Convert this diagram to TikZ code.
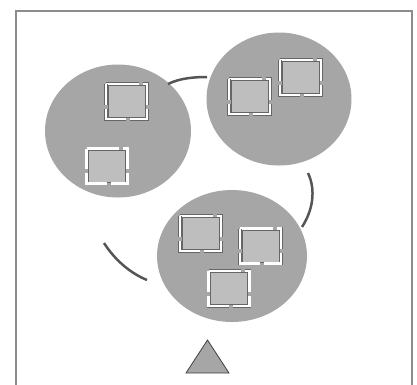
\documentclass[tikz,border=0pt]{standalone}
\usetikzlibrary{shapes.geometric}
\definecolor{blobfill}{HTML}{A6A6A6}
\definecolor{sqfill}{HTML}{BEBEBE}
\definecolor{arcgray}{HTML}{555555}
\definecolor{framegray}{HTML}{8C8C8C}
\definecolor{edgegray}{HTML}{666666}
\tikzset{
  blob/.style={ellipse, fill=blobfill, inner sep=0pt},
  sqnode/.style={rectangle, fill=sqfill, draw=edgegray, line width=0.4pt, minimum width=37pt, minimum height=32pt, inner sep=0pt},
  strip/.style={draw=edgegray, line width=0.6pt, double=white, double distance=2.4pt},
  linkarc/.style={draw=arcgray, line width=2.5pt},
  outerframe/.style={draw=framegray, line width=1.2pt},
  tri/.style={fill=blobfill, draw=black!75, line width=0.8pt, line join=miter}
}
\newcommand{\sqbox}[3]{%
  \begin{scope}[shift={(#2,#3)}]
    \node[sqnode] (#1) at (0,0) {};
    \draw[strip] (-20.5,-17.5) -- (12,-17.5);
    \draw[strip] (16,-17.5) -- (20.5,-17.5) -- (20.5,3);
    \draw[strip] (20.5,7) -- (20.5,17.5) -- (3.5,17.5);
    \draw[strip] (-0.5,17.5) -- (-20.5,17.5) -- (-20.5,7);
    \draw[strip] (-20.5,3) -- (-20.5,-17.5);
  \end{scope}%
}
\begin{document}
\begin{tikzpicture}[x=1pt,y=-1pt]
\useasboundingbox (0,0) rectangle (417,384);
\draw[outerframe] (16,390) -- (16,11) -- (412,11) -- (412,390);
% blobs
\node[blob, minimum width=146pt, minimum height=133pt] (e1) at (118,131) {};
\node[blob, minimum width=145pt, minimum height=133pt] (e2) at (279,99) {};
\node[blob, minimum width=150pt, minimum height=132pt] (e3) at (232,256) {};
% link arcs
\coordinate (a1s) at (168,84); \coordinate (a1e) at (207,77);
\coordinate (a2s) at (308,173); \coordinate (a2e) at (302,227);
\coordinate (a3s) at (104,243); \coordinate (a3e) at (147,280);
\draw[linkarc] (a1s) .. controls (180,78) and (195,77) .. (a1e);
\draw[linkarc] (a2s) .. controls (316,190) and (313,210) .. (a2e);
\draw[linkarc] (a3s) .. controls (115,260) and (130,273) .. (a3e);
% squares
\sqbox{s1}{126.5}{101.5}
\sqbox{s2}{107}{166}
\sqbox{s3}{249.5}{96.5}
\sqbox{s4}{300.5}{77.5}
\sqbox{s5}{200.5}{233.5}
\sqbox{s6}{260.5}{246}
\sqbox{s7}{229}{288.5}
% triangle
\coordinate (tapex) at (207.5,340);
\coordinate (tleft) at (186,373);
\coordinate (tright) at (229,373);
\draw[tri] (tapex) -- (tright) -- (tleft) -- cycle;
\end{tikzpicture}
\end{document}
